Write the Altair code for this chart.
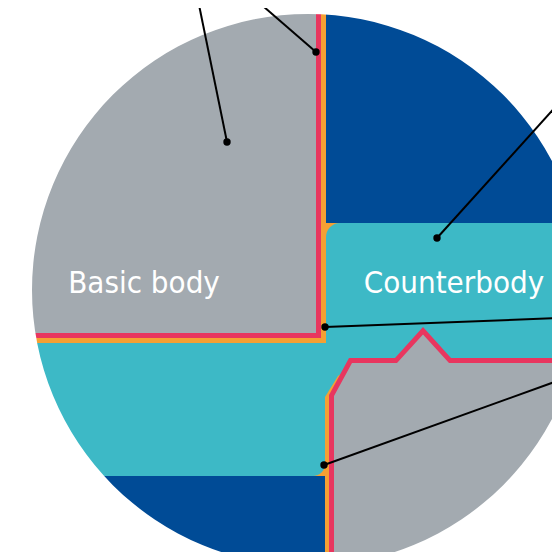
import altair as alt
import pandas as pd

# ---- palette ----
GRAY = "#a3aab0"
TEAL = "#3db9c6"
BLUE = "#004b96"
RED = "#e8365f"
ORANGE = "#f5a033"

# ---- circle (diagram coords, page pixels) ----
CIRCLE_CX = 308
CIRCLE_CY = 290
CIRCLE_R = 276

# ---- regions: (x0, x1, y0, y1) ----
teal_base = [(8, 560, 8, 560)]
blue_regions = [(326, 560, 8, 223), (8, 325, 476, 560)]
orange_corners = [(326, 346, 223, 243), (305, 325, 455, 476)]
counterbody = [(326, 560, 223, 350)]
teal_band = [(8, 325, 343, 476)]
basic_body = [(8, 316, 8, 333)]
red_strips = [(316, 321, 8, 338), (8, 321, 333, 338)]
orange_strips = [(321, 326, 8, 343), (8, 326, 338, 343)]

# lower-right body outline (x, top y)
red_outline_x = [329, 349, 395, 423, 451, 560]
red_outline_y = [395, 358, 358, 327, 358, 358]
gray_inner_x = [334, 352, 397, 423, 449, 560]
gray_inner_y = [396, 363, 363, 334.5, 363, 363]
orange_edge_x = [325, 338, 342]
orange_edge_y = [397, 376, 373]

# annotation lines: dot (x, y) -> end (x, y)
dot_x = [227, 316, 437, 325, 324]
dot_y = [142, 52, 238, 327, 465]
end_x = [198, 256, 560, 560, 560]
end_y = [0, 0, 102, 318, 380]

labels = ["Basic body", "Counterbody"]
label_x = [144, 454]
label_y = [293, 293]

PAGE0 = 8
PLOT = 544
xs = alt.Scale(domain=[PAGE0, PAGE0 + PLOT], nice=False, zero=False)
ys = alt.Scale(domain=[PAGE0, PAGE0 + PLOT], reverse=True, nice=False, zero=False)


def rect_df(rows):
    return pd.DataFrame(rows, columns=["x0", "x1", "y0", "y1"])


def rect_layer(rows, color, **kw):
    return alt.Chart(rect_df(rows)).mark_rect(color=color, clip=True, **kw).encode(
        x=alt.X("x0:Q", scale=xs, axis=None),
        x2="x1:Q",
        y=alt.Y("y0:Q", scale=ys, axis=None),
        y2="y1:Q",
    )


def area_layer(xv, yv, color):
    df = pd.DataFrame({"x": xv, "y": yv, "base": [560] * len(xv)})
    return alt.Chart(df).mark_area(color=color, interpolate="linear", opacity=1, clip=True).encode(
        x=alt.X("x:Q", scale=xs, axis=None),
        y=alt.Y("y:Q", scale=ys, axis=None),
        y2="base:Q",
    )


layers = [
    rect_layer(teal_base, TEAL),
    rect_layer(blue_regions, BLUE),
    rect_layer(orange_corners, ORANGE),
    rect_layer(counterbody, TEAL, cornerRadiusTopLeft=14),
    rect_layer(teal_band, TEAL, cornerRadiusBottomRight=12),
    rect_layer(basic_body, GRAY),
    rect_layer(red_strips, RED),
    rect_layer(orange_strips, ORANGE),
    area_layer(orange_edge_x, orange_edge_y, ORANGE),
    area_layer(red_outline_x, red_outline_y, RED),
    area_layer(gray_inner_x, gray_inner_y, GRAY),
]

# white mask outside the circle
mask_df = pd.DataFrame({"cx": [CIRCLE_CX], "cy": [CIRCLE_CY]})
mask = alt.Chart(mask_df).mark_arc(
    color="white", theta=0, theta2=6.2832, radius=1200, radius2=CIRCLE_R
).encode(
    x=alt.X("cx:Q", scale=xs, axis=None),
    y=alt.Y("cy:Q", scale=ys, axis=None),
)
layers.append(mask)

ann = pd.DataFrame({"x": dot_x, "y": dot_y, "ex": end_x, "ey": end_y})
lines = alt.Chart(ann).mark_rule(color="black", strokeWidth=2, clip=True).encode(
    x=alt.X("x:Q", scale=xs, axis=None),
    y=alt.Y("y:Q", scale=ys, axis=None),
    x2="ex:Q",
    y2="ey:Q",
)
dots = alt.Chart(ann).mark_circle(color="black", size=55, opacity=1).encode(
    x=alt.X("x:Q", scale=xs, axis=None),
    y=alt.Y("y:Q", scale=ys, axis=None),
)
layers += [lines, dots]

txt_df = pd.DataFrame({"label": labels, "x": label_x, "y": label_y})
texts = alt.Chart(txt_df).mark_text(
    color="white", font="DejaVu Sans Condensed, Liberation Sans Narrow, Roboto, sans-serif",
    fontSize=31, align="center", baseline="alphabetic",
).encode(
    x=alt.X("x:Q", scale=xs, axis=None),
    y=alt.Y("y:Q", scale=ys, axis=None),
    text="label:N",
)
layers.append(texts)

chart = alt.layer(*layers).properties(
    width=PLOT, height=PLOT, padding=0, autosize="none", background="white"
).configure_view(strokeWidth=0)

chart.save("out.html", embed_options={"renderer": "svg", "actions": False})
